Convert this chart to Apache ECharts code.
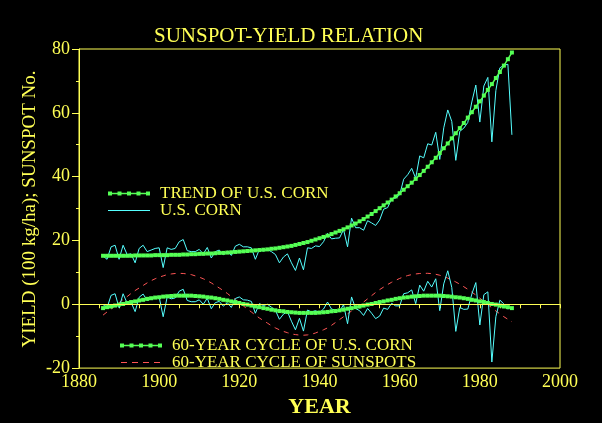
<!DOCTYPE html>
<html>
<head>
<meta charset="utf-8">
<script src="https://cdn.jsdelivr.net/npm/echarts@6/dist/echarts.min.js"></script>
<style>
  html, body { margin: 0; padding: 0; background: #000; }
  #chart { width: 602px; height: 423px; }
</style>
</head>
<body>
<div id="chart"></div>
<script>
// yearly values, 1886 - 1988, in 100 kg/ha
var firstYear = 1886;

var corn = [
	15.1, 14.1, 18.0, 18.5, 14.1, 18.5, 15.6, 15.8, 13.0, 17.5,
	18.5, 16.5, 17.0, 17.5, 17.7, 11.5, 17.7, 17.2, 17.5, 19.6,
	20.3, 16.8, 16.5, 16.5, 17.2, 15.8, 17.8, 14.5, 16.5, 17.0,
	15.5, 16.7, 15.3, 18.2, 18.8, 18.0, 18.0, 17.7, 14.1, 17.2,
	16.7, 17.2, 16.5, 15.6, 13.0, 14.8, 15.8, 13.0, 10.6, 14.5,
	10.8, 17.7, 17.5, 18.3, 18.1, 19.6, 22.2, 20.5, 20.7, 20.8,
	23.4, 18.0, 27.0, 24.0, 24.0, 23.2, 26.2, 25.5, 24.7, 26.4,
	29.8, 30.3, 33.1, 33.3, 34.3, 39.2, 40.6, 42.6, 39.5, 46.5,
	45.9, 50.3, 49.9, 53.9, 45.4, 55.3, 60.9, 57.3, 45.1, 54.2,
	55.2, 57.0, 63.4, 68.7, 57.1, 68.4, 71.1, 50.9, 67.0, 74.1,
	74.9, 75.2, 53.1
];

var cornTrend = [
	15.2, 15.2, 15.2, 15.2, 15.2, 15.2, 15.2, 15.2, 15.3, 15.3,
	15.3, 15.3, 15.3, 15.4, 15.4, 15.4, 15.4, 15.5, 15.5, 15.5,
	15.6, 15.6, 15.7, 15.7, 15.8, 15.8, 15.9, 15.9, 16.0, 16.1,
	16.1, 16.2, 16.3, 16.4, 16.5, 16.6, 16.7, 16.8, 16.9, 17.0,
	17.1, 17.2, 17.4, 17.5, 17.7, 17.9, 18.1, 18.3, 18.6, 18.9,
	19.2, 19.5, 19.9, 20.3, 20.7, 21.1, 21.5, 22.0, 22.5, 23.0,
	23.5, 24.1, 24.7, 25.3, 26.0, 26.7, 27.5, 28.3, 29.2, 30.1,
	31.0, 31.9, 32.8, 33.8, 34.8, 35.9, 37.0, 38.1, 39.3, 40.5,
	41.8, 43.1, 44.5, 45.9, 47.4, 48.9, 50.4, 52.0, 53.6, 55.2,
	56.8, 58.5, 60.2, 61.9, 63.6, 65.4, 67.2, 69.0, 70.9, 72.8,
	74.8, 76.8, 78.9
];

var cornCycle = [
	-1.2, -0.9, -0.7, -0.4, -0.1, 0.1, 0.4, 0.7, 0.9, 1.2,
	1.4, 1.7, 1.9, 2.1, 2.2, 2.4, 2.5, 2.6, 2.7, 2.7,
	2.7, 2.7, 2.7, 2.6, 2.5, 2.4, 2.2, 2.1, 1.9, 1.7,
	1.4, 1.2, 0.9, 0.7, 0.4, 0.1, -0.1, -0.4, -0.7, -0.9,
	-1.2, -1.4, -1.7, -1.9, -2.1, -2.2, -2.4, -2.5, -2.6, -2.7,
	-2.7, -2.7, -2.7, -2.7, -2.6, -2.5, -2.4, -2.2, -2.1, -1.9,
	-1.7, -1.4, -1.2, -0.9, -0.7, -0.4, -0.1, 0.1, 0.4, 0.7,
	0.9, 1.2, 1.4, 1.7, 1.9, 2.1, 2.2, 2.4, 2.5, 2.6,
	2.7, 2.7, 2.7, 2.7, 2.7, 2.6, 2.5, 2.4, 2.2, 2.1,
	1.9, 1.7, 1.4, 1.2, 0.9, 0.7, 0.4, 0.1, -0.1, -0.4,
	-0.7, -0.9, -1.2
];

var sunspotCycle = [
	-3.4, -2.4, -1.5, -0.5, 0.5, 1.5, 2.4, 3.4, 4.3, 5.1,
	5.9, 6.7, 7.4, 8.0, 8.5, 8.9, 9.3, 9.5, 9.65, 9.7,
	9.65, 9.5, 9.3, 8.9, 8.5, 8.0, 7.4, 6.7, 5.9, 5.1,
	4.3, 3.4, 2.4, 1.5, 0.5, -0.5, -1.5, -2.4, -3.4, -4.3,
	-5.1, -5.9, -6.7, -7.4, -8.0, -8.5, -8.9, -9.3, -9.5, -9.65,
	-9.7, -9.6, -9.4, -9.0, -8.5, -8.0, -7.4, -6.6, -5.7, -4.8,
	-3.9, -3.0, -2.1, -1.2, -0.3, 0.7, 1.7, 2.7, 3.7, 4.6,
	5.4, 6.2, 6.9, 7.5, 8.1, 8.6, 9.0, 9.3, 9.5, 9.65,
	9.7, 9.7, 9.6, 9.4, 9.1, 8.7, 8.2, 7.6, 7.0, 6.3,
	5.5, 4.7, 3.8, 2.9, 1.9, 0.9, -0.1, -1.1, -2.1, -3.0,
	-3.9, -4.7, -5.5
];

var years = corn.map(function (v, i) { return firstYear + i; });

function pairs(values) {
	return values.map(function (v, i) { return [years[i], v]; });
}

// corn minus trend (the last, 1988 drought year is not shown in the lower curve)
var cornResidual = corn.slice(0, corn.length - 1).map(function (v, i) {
	return [years[i], +(v - cornTrend[i]).toFixed(1)];
});

var yellow = '#ffff55';
var green = '#55ff55';
var cyan = '#55ffff';
var red = '#ff5555';
var font = "'Liberation Serif', 'DejaVu Serif', serif";

// legend icons: line with squares, plain line, dashed line
var dotLineIcon = 'path://M0 1.3L42 1.3L42 2.7L0 2.7Z M0 0L4 0L4 4L0 4Z M9.5 0L13.5 0L13.5 4L9.5 4Z M19 0L23 0L23 4L19 4Z M28.5 0L32.5 0L32.5 4L28.5 4Z M38 0L42 0L42 4L38 4Z';
var thinLineIcon = 'path://M0 0L42 0Z M0 4L42 4Z M0 1.5L42 1.5L42 2.5L0 2.5Z';
var dashIcon = 'path://M0 0L40 0Z M0 4L40 4Z M0 1.5L6 1.5L6 2.5L0 2.5Z M11 1.5L17 1.5L17 2.5L11 2.5Z M22 1.5L28 1.5L28 2.5L22 2.5Z M33 1.5L39 1.5L39 2.5L33 2.5Z';

var myChart = echarts.init(document.getElementById('chart'));

var option = {
	backgroundColor: '#000',
	animation: false,
	title: {
		text: 'SUNSPOT-YIELD RELATION',
		left: 154,
		top: 26,
		padding: 0,
		textStyle: { color: yellow, fontFamily: font, fontSize: 21, fontWeight: 'normal' },
	},
	legend: [
		{
			orient: 'vertical',
			left: 108,
			top: 185,
			padding: 0,
			itemGap: 0,
			itemWidth: 42,
			itemHeight: 4,
			selectedMode: false,
			itemStyle: { borderWidth: 0 },
			textStyle: { color: yellow, fontFamily: font, fontSize: 17, lineHeight: 17, padding: [0, 0, 0, 5] },
			data: [
				{ name: 'TREND OF U.S. CORN', icon: dotLineIcon },
				{ name: 'U.S. CORN', icon: thinLineIcon },
			],
		},
		{
			orient: 'vertical',
			left: 120,
			top: 337,
			padding: 0,
			itemGap: 0,
			itemWidth: 42,
			itemHeight: 4,
			selectedMode: false,
			itemStyle: { borderWidth: 0 },
			textStyle: { color: yellow, fontFamily: font, fontSize: 17, lineHeight: 15, padding: [0, 0, 0, 5] },
			data: [
				{ name: '60-YEAR CYCLE OF U.S. CORN', icon: dotLineIcon },
				{ name: '60-YEAR CYCLE OF SUNSPOTS', icon: dashIcon },
			],
		},
	],
	grid: {
		left: 79,
		right: 42,
		top: 49,
		bottom: 54,
		show: true,
		borderColor: yellow,
		borderWidth: 1,
		backgroundColor: 'transparent',
	},
	xAxis: {
		type: 'value',
		min: 1880,
		max: 2000,
		interval: 20,
		name: 'YEAR',
		nameLocation: 'middle',
		nameGap: 19,
		nameTextStyle: { color: yellow, fontFamily: font, fontSize: 22, fontWeight: 'bold', verticalAlign: 'top' },
		axisLine: { lineStyle: { color: yellow } },
		axisTick: { length: 4, lineStyle: { color: yellow } },
		minorTick: { show: true, splitNumber: 4, length: 4, lineStyle: { color: yellow } },
		axisLabel: {
			color: yellow, fontFamily: font, fontSize: 18, margin: 5,
			formatter: function (v) { return String(v); },
		},
		splitLine: { show: false },
	},
	yAxis: {
		type: 'value',
		min: -20,
		max: 80,
		interval: 20,
		axisLine: { lineStyle: { color: yellow } },
		axisTick: { length: 7, lineStyle: { color: yellow } },
		minorTick: { show: true, splitNumber: 2, length: 3, lineStyle: { color: yellow } },
		axisLabel: { color: yellow, fontFamily: font, fontSize: 18, margin: 9 },
		splitLine: { show: false },
	},
	graphic: [
		{
			type: 'text',
			x: 30,
			y: 209,
			rotation: Math.PI / 2,
			style: {
				text: 'YIELD (100 kg/ha); SUNSPOT No.',
				fill: yellow,
				font: '19px ' + font,
				align: 'center',
				verticalAlign: 'middle',
			},
		},
	],
	series: [
		{
			name: '60-YEAR CYCLE OF SUNSPOTS',
			type: 'line',
			data: pairs(sunspotCycle),
			symbol: 'none',
			color: red,
			lineStyle: { color: red, width: 1, type: [5, 5] },
			z: 2,
		},
		{
			name: 'U.S. CORN',
			type: 'line',
			data: pairs(corn),
			symbol: 'none',
			color: cyan,
			lineStyle: { color: cyan, width: 1 },
			z: 3,
		},
		{
			name: 'U.S. CORN detrended',
			type: 'line',
			data: cornResidual,
			symbol: 'none',
			color: cyan,
			lineStyle: { color: cyan, width: 1 },
			z: 3,
			markLine: {
				silent: true,
				symbol: ['none', 'none'],
				label: { show: false },
				lineStyle: { color: yellow, type: 'solid', width: 1 },
				data: [{ yAxis: 0 }],
			},
		},
		{
			name: 'TREND OF U.S. CORN',
			type: 'line',
			data: pairs(cornTrend),
			symbol: 'rect',
			symbolSize: 4,
			color: green,
			itemStyle: { color: green },
			lineStyle: { color: green, width: 1.5 },
			z: 4,
		},
		{
			name: '60-YEAR CYCLE OF U.S. CORN',
			type: 'line',
			data: pairs(cornCycle),
			symbol: 'rect',
			symbolSize: 4,
			color: green,
			itemStyle: { color: green },
			lineStyle: { color: green, width: 1.5 },
			z: 4,
		},
	],
};

myChart.setOption(option);
</script>
</body>
</html>
